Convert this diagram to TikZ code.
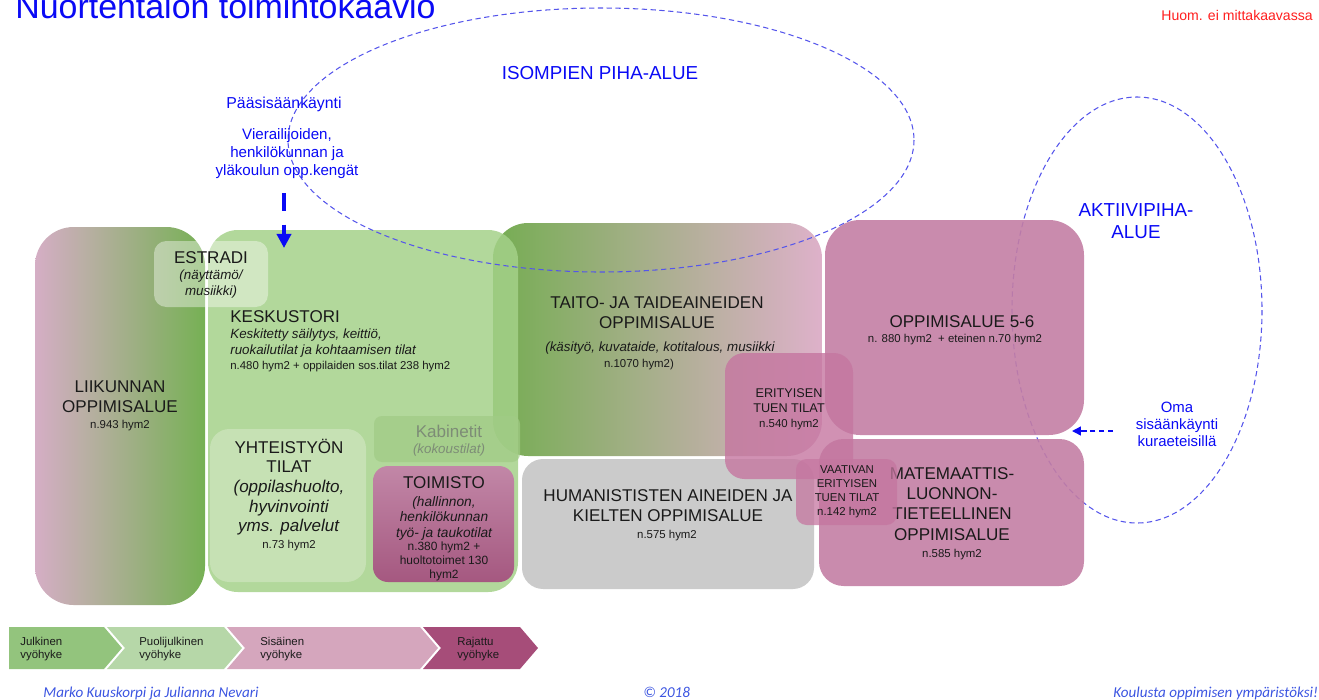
\documentclass[tikz,border=0pt]{standalone}
\usepackage{fontspec}
\setmainfont{Liberation Sans}
\newfontfamily\footfont{Carlito}
\usetikzlibrary{arrows.meta}

\newcommand{\setfs}[2]{\fontsize{#1}{#2}\selectfont}

\definecolor{labelblue}{RGB}{10,10,245}
\definecolor{dashblue}{RGB}{85,85,235}
\definecolor{footblue}{RGB}{60,85,225}
\definecolor{huomred}{RGB}{255,30,30}
\definecolor{inktext}{RGB}{26,26,26}
\definecolor{liikpink}{RGB}{213,174,197}
\definecolor{liikgreen}{RGB}{118,176,84}
\definecolor{torigreen}{RGB}{164,209,137}
\definecolor{yhtgreen}{RGB}{198,225,180}
\definecolor{kabgreen}{RGB}{161,203,134}
\definecolor{kabtext}{RGB}{125,140,118}
\definecolor{toimtop}{RGB}{194,135,167}
\definecolor{toimbot}{RGB}{165,88,128}
\definecolor{taitogreen}{RGB}{117,173,82}
\definecolor{taitopink}{RGB}{222,177,202}
\definecolor{humgray}{RGB}{203,203,203}
\definecolor{oppipink}{RGB}{195,126,164}
\definecolor{erityispink}{RGB}{197,118,160}
\definecolor{legjul}{RGB}{147,196,125}
\definecolor{legpuo}{RGB}{182,215,168}
\definecolor{legsis}{RGB}{213,166,189}
\definecolor{legraj}{RGB}{166,77,121}

\begin{document}
\begin{tikzpicture}[x=0.02cm, y=-0.02cm,
    area/.style={inner sep=0pt, align=center, text=inktext, font=\setfs{9.7}{11.3}},
    note/.style={inner sep=0pt, text=inktext, font=\setfs{6.5}{7.9}},
    sub/.style={inner sep=0pt, align=center, text=inktext, font=\setfs{7.6}{9.1}\itshape},
    blue label/.style={inner sep=0pt, align=center, text=labelblue},
    zone/.style={draw=dashblue, line width=0.6pt, dash pattern=on 3pt off 2pt},
    legend/.style={inner sep=0pt, align=left, anchor=west, text=inktext, font=\setfs{6.5}{7.9}},
    footer/.style={inner sep=0pt, anchor=base west, text=footblue, font=\footfont\itshape\setfs{8.6}{10}}]
  \useasboundingbox (0,0) rectangle (1319,700);

  % Aktiivipiha
  \draw[zone] (1137,310) ellipse [x radius=125, y radius=213];

  % Liikunta
  \shade[left color=liikpink, right color=liikgreen, rounded corners=22pt] (35,227) rectangle (205,605);
  % Taito- ja taideaineet
  \shade[left color=taitogreen, right color=taitopink, rounded corners=20pt] (493,223) rectangle (822,456);
  % Keskustori
  \fill[torigreen, fill opacity=0.85, rounded corners=17pt] (208,230) rectangle (518,592);
  % Estradi
  \fill[white, fill opacity=0.4, rounded corners=7pt] (154,241) rectangle (268,307);
  % Yhteistyon tilat, kabinetit, toimisto
  \fill[yhtgreen, rounded corners=11pt] (210,429) rectangle (366,582);
  \fill[kabgreen, fill opacity=0.7, rounded corners=4.5pt] (374,416) rectangle (520,462);
  \shade[top color=toimtop, bottom color=toimbot, rounded corners=8.5pt] (373,466) rectangle (514,582);
  % Humanistiset aineet
  \fill[humgray, rounded corners=12pt] (522,459) rectangle (814,589);
  % Oppimisalue 5-6 ja matematiikka
  \fill[oppipink, fill opacity=0.9, rounded corners=20pt] (825,220) rectangle (1084,435);
  \fill[oppipink, fill opacity=0.9, rounded corners=14pt] (819,439) rectangle (1084,586);

  \node[area] (liik) at (120,397) {LIIKUNNAN\\OPPIMISALUE};
  \node[note, anchor=base] (liikA) at (120,428) {n.943 hym2};
  \node[area, anchor=base] (estradi) at (211,263) {ESTRADI};
  \node[sub] (estradiS) at (211,284.5) {(näyttämö/\\musiikki)};
  \node[area, anchor=base west] (tori) at (230,322) {KESKUSTORI};
  \node[sub, align=left, anchor=west, font=\setfs{7.6}{9.6}\itshape] (toriS) at (230,343) {Keskitetty säilytys, keittiö,\\ruokailutilat ja kohtaamisen tilat};
  \node[note, anchor=base west] (toriA) at (230,369) {n.480 hym2 + oppilaiden sos.tilat 238 hym2};
  \node[area, font=\setfs{9.7}{11.2}] (yht) at (289,487) {YHTEISTYÖN\\TILAT\\\textit{(oppilashuolto,}\\\textit{hyvinvointi}\\\textit{yms. palvelut}};
  \node[note, anchor=base] (yhtA) at (289,548) {n.73 hym2};
  \node[area, anchor=base, text=kabtext] (kab) at (449,437) {Kabinetit};
  \node[sub, anchor=base, text=kabtext] (kabS) at (449,453) {(kokoustilat)};
  \node[area, anchor=base] (toim) at (444,488) {TOIMISTO};
  \node[sub, font=\setfs{7.8}{8.8}\itshape] (toimS) at (444,518) {(hallinnon,\\henkilökunnan\\työ- ja taukotilat};
  \node[note, align=center, font=\setfs{6.8}{7.7}] (toimA) at (444,561.4) {n.380 hym2 +\\huoltotoimet 130\\hym2};
  \node[area] (taito) at (657,313) {TAITO- JA TAIDEAINEIDEN\\OPPIMISALUE};
  \node[sub, anchor=base] (taitoS) at (660,351) {(käsityö, kuvataide, kotitalous, musiikki};
  \node[note, anchor=base] (taitoA) at (639,367) {n.1070 hym2)};
  \node[area] (hum) at (668,506) {HUMANISTISTEN AINEIDEN JA\\KIELTEN OPPIMISALUE};
  \node[note, anchor=base] (humA) at (667,538) {n.575 hym2};
  \node[area, anchor=base] (opp56) at (962,327) {OPPIMISALUE 5-6};
  \node[note, anchor=base] (opp56A) at (955,342) {n. 880 hym2~ + eteinen n.70 hym2};
  \node[area, font=\setfs{9.7}{11.5}] (mat) at (952,504) {MATEMAATTIS-\\LUONNON-\\TIETEELLINEN\\OPPIMISALUE};
  \node[note, anchor=base] (matA) at (952,557) {n.585 hym2};

  % Erityisen tuen tilat
  \fill[erityispink, fill opacity=0.8, rounded corners=11pt] (725,353) rectangle (853,479);
  \node[area, font=\setfs{7.2}{8.5}] (erit) at (789,401) {ERITYISEN\\TUEN TILAT};
  \node[note, anchor=base] (eritA) at (789,427) {n.540 hym2};
  \fill[erityispink, fill opacity=0.75, rounded corners=6pt] (796,459) rectangle (897,525);
  \node[area, font=\setfs{6.5}{7.95}] (vaat) at (847,492) {VAATIVAN\\ERITYISEN\\TUEN TILAT\\n.142 hym2};

  % Isompien piha
  \draw[zone] (601,140) ellipse [x radius=313, y radius=132];

  % Otsikot
  \node[anchor=base west, inner sep=0pt, text=labelblue, font=\setfs{19.3}{22}] (title) at (15,18) {Nuortentalon toimintokaavio};
  \node[anchor=base west, inner sep=0pt, text=huomred, font=\setfs{8}{9.5}] (huom) at (1161,20) {Huom. ei mittakaavassa};
  \node[blue label, anchor=base, font=\setfs{10.7}{12.5}] (iso) at (600,79) {ISOMPIEN PIHA-ALUE};
  \node[blue label, font=\setfs{10.7}{12.5}] (aktiivi) at (1136,221) {AKTIIVIPIHA-\\ALUE};
  \node[blue label, font=\setfs{8.5}{9.65}] (oma) at (1177,424.5) {Oma\\sisäänkäynti\\kuraeteisillä};
  \node[blue label, anchor=base, font=\setfs{9}{10.5}] (paa) at (284,108) {Pääsisäänkäynti};
  \node[blue label, font=\setfs{8.6}{10.2}] (vieras) at (287,154) {Vierailijoiden,\\henkilökunnan ja\\yläkoulun opp.kengät};

  % Sisaankaynnit
  \coordinate (gateFrom) at (284,193);
  \coordinate (gateTo) at (284,248);
  \draw[labelblue, line width=2.8pt, dash pattern=on 10pt off 8pt, -{Triangle[width=8pt,length=8pt]}] (gateFrom) -- (gateTo);
  \coordinate (omaFrom) at (1113,431);
  \coordinate (omaTo) at (1072,431);
  \draw[labelblue, line width=0.8pt, dash pattern=on 3pt off 2pt, -{Triangle[width=5pt,length=5pt]}] (omaFrom) -- (omaTo);

  % Vyohykkeet
  \fill[legjul] (9,627) -- (104,627) -- (122,648) -- (104,669) -- (9,669) -- cycle;
  \fill[legpuo] (107,627) -- (224,627) -- (242,648) -- (224,669) -- (107,669) -- (125,648) -- cycle;
  \fill[legsis] (227,627) -- (420,627) -- (438,648) -- (420,669) -- (227,669) -- (245,648) -- cycle;
  \fill[legraj] (423,627) -- (520,627) -- (538,648) -- (520,669) -- (423,669) -- (441,648) -- cycle;
  \node[legend] (jul) at (20,649) {Julkinen\\vyöhyke};
  \node[legend] (puo) at (139,649) {Puolijulkinen\\vyöhyke};
  \node[legend] (sis) at (260,649) {Sisäinen\\vyöhyke};
  \node[legend] (raj) at (457,649) {Rajattu\\vyöhyke};

  % Alatunniste
  \node[footer] (authors) at (43,697) {Marko Kuuskorpi ja Julianna Nevari};
  \node[footer] (year) at (643,697) {© 2018};
  \node[footer] (slogan) at (1113,697) {Koulusta oppimisen ympäristöksi!};
\end{tikzpicture}
\end{document}
